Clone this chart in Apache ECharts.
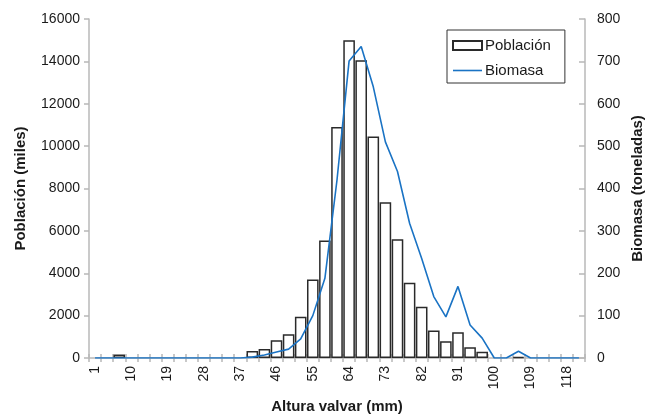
<!DOCTYPE html>
<html>
<head>
<meta charset="utf-8">
<script src="https://cdn.jsdelivr.net/npm/echarts@6/dist/echarts.min.js"></script>
<style>
html,body{margin:0;padding:0;background:#fff;}
#chart{width:652px;height:414px;}
</style>
</head>
<body>
<div id="chart"></div>
<script>
// Altura valvar (mm) categories
var categories = ['1','4','7','10','13','16','19','22','25','28','31','34','37','40','43','46','49','52','55','58','61','64','67','70','73','76','79','82','85','88','91','94','97','100','103','106','109','112','115','118','121'];
// Población (miles)
var poblacion = [0,0,170,0,0,0,0,0,0,0,0,0,0,330,425,835,1120,1950,3700,5550,10900,15000,14050,10450,7350,5600,3550,2420,1300,790,1210,505,300,0,0,50,0,0,0,0,0];
// Biomasa (toneladas)
var biomasa = [0,0,0,0,0,0,0,0,0,0,0,0,0,2,7,14,21,45,100,188,420,701,735,640,510,440,318,235,145,97,169,78,47,0,0,16,0,0,0,0,0];

var leftTicks = {min:0, max:16000, interval:2000};
var rightTicks = {min:0, max:800, interval:100};

var FONT = '"Liberation Sans", Arial, sans-serif';
var AXIS_COLOR = '#b8b8b8';
var TEXT_COLOR = '#1a1a1a';
var plain = function(v){ return String(v); };

var chart = echarts.init(document.getElementById('chart'), null, {renderer:'canvas'});
chart.setOption({
  backgroundColor:'#ffffff',
  animation:false,
  textStyle:{fontFamily:FONT},
  grid:{left:89, right:67, top:19, bottom:56, containLabel:false, outerBoundsMode:'none'},
  legend:{
    orient:'vertical',
    left:447, top:30,
    padding:[7,14,4,5],
    itemGap:8,
    itemWidth:29, itemHeight:9,
    borderColor:'#333', borderWidth:1,
    textStyle:{fontFamily:FONT, fontSize:15, color:TEXT_COLOR, padding:[0,0,0,-2], lineHeight:17},
    data:[
      {name:'Población', icon:'rect'},
      {name:'Biomasa', icon:'path://M0,0 L29,0 L29,1.6 L0,1.6 Z'}
    ]
  },
  xAxis:[{
    type:'category', data:categories, position:'bottom',
    boundaryGap:true,
    axisLine:{show:true, lineStyle:{color:AXIS_COLOR, width:1.5}},
    axisTick:{show:true, interval:0, inside:false, length:4, lineStyle:{color:AXIS_COLOR, width:1.5}},
    axisLabel:{interval:2, rotate:90, margin:8, fontFamily:FONT, fontSize:14, color:TEXT_COLOR},
    splitLine:{show:false},
    name:'Altura valvar (mm)', nameLocation:'middle', nameGap:41, nameMoveOverlap:false,
    nameTextStyle:{fontFamily:FONT, fontSize:15, fontWeight:'bold', color:TEXT_COLOR}
  },{
    type:'category', data:categories, position:'bottom',
    boundaryGap:true,
    axisLine:{show:false},
    axisTick:{show:true, interval:0, inside:true, length:4, lineStyle:{color:AXIS_COLOR, width:1.5}},
    axisLabel:{show:false},
    splitLine:{show:false}
  }],
  yAxis:[{
    type:'value', position:'left',
    min:leftTicks.min, max:leftTicks.max, interval:leftTicks.interval,
    axisLine:{show:true, lineStyle:{color:AXIS_COLOR, width:1.5}},
    axisTick:{show:true, inside:false, length:5, lineStyle:{color:AXIS_COLOR, width:1.5}},
    axisLabel:{margin:9, fontFamily:FONT, fontSize:14, color:TEXT_COLOR, formatter:plain},
    splitLine:{show:false},
    name:'Población (miles)', nameLocation:'middle', nameGap:61, nameRotate:90, nameMoveOverlap:false,
    nameTextStyle:{fontFamily:FONT, fontSize:15, fontWeight:'bold', color:TEXT_COLOR}
  },{
    type:'value', position:'right',
    min:rightTicks.min, max:rightTicks.max, interval:rightTicks.interval,
    axisLine:{show:true, lineStyle:{color:AXIS_COLOR, width:1.5}},
    axisTick:{show:true, inside:true, length:6, lineStyle:{color:AXIS_COLOR, width:1.5}},
    axisLabel:{margin:12, fontFamily:FONT, fontSize:14, color:TEXT_COLOR, formatter:plain},
    splitLine:{show:false},
    name:'Biomasa (toneladas)', nameLocation:'middle', nameGap:45, nameRotate:90, nameMoveOverlap:false,
    nameTextStyle:{fontFamily:FONT, fontSize:15, fontWeight:'bold', color:TEXT_COLOR}
  }],
  series:[{
    name:'Población', type:'bar', xAxisIndex:0, yAxisIndex:0,
    data:poblacion.map(function(v){return v===0?'-':v;}),
    barWidth:'96%',
    itemStyle:{color:'#ffffff', borderColor:'#2a2a2a', borderWidth:1.5},
    z:2
  },{
    name:'Biomasa', type:'line', xAxisIndex:0, yAxisIndex:1,
    data:biomasa,
    symbol:'none', showSymbol:false,
    lineStyle:{color:'#1a73c4', width:1.6},
    itemStyle:{color:'#1a73c4'},
    z:3
  }]
});
</script>
</body>
</html>
